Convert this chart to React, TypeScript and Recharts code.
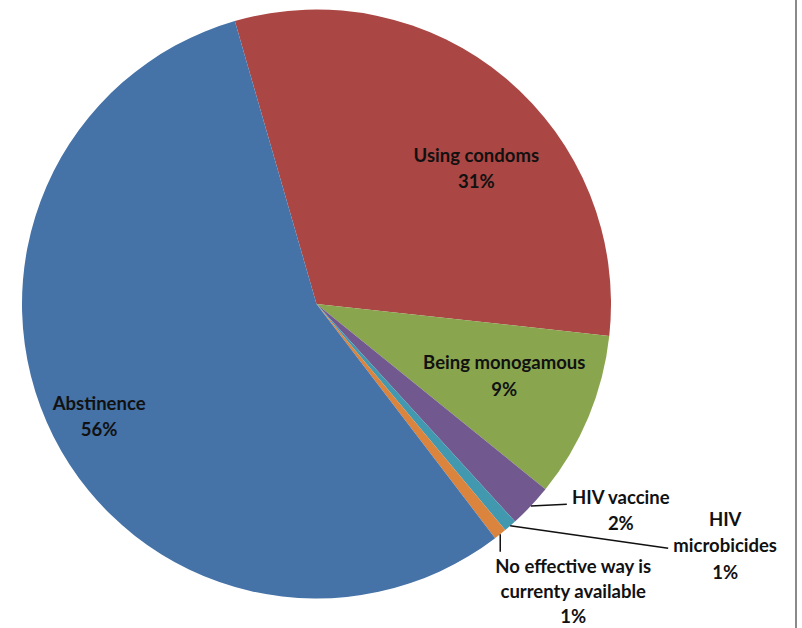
import { PieChart, Pie, Cell } from 'recharts';

// Answers to "most effective way to prevent HIV", share of respondents
const categories = [
  'Using condoms',
  'Being monogamous',
  'HIV vaccine',
  'HIV microbicides',
  'No effective way is currenty available',
  'Abstinence',
];
const shares = [31.2, 9.1, 2.4, 0.7, 0.7, 55.9];
const labelText = [
  ['Using condoms'],
  ['Being monogamous'],
  ['HIV vaccine'],
  ['HIV', 'microbicides'],
  ['No effective way is', 'currenty available'],
  ['Abstinence'],
];
const colors = ['#AA4643', '#89A54E', '#71588F', '#4198AF', '#DB843D', '#4572A7'];

const data = categories.map((name, i) => ({ name, value: shares[i] }));
const total = shares.reduce((a, b) => a + b, 0);

const RADIAN = Math.PI / 180;
const LINE_H = 26.5;
const FONT = 'Lato, "Open Sans", sans-serif';

const polar = (cx: number, cy: number, r: number, angle: number) => ({
  x: cx + r * Math.cos(-angle * RADIAN),
  y: cy + r * Math.sin(-angle * RADIAN),
});

// inside labels sit on the slice's mid ray; outside ones hang off the rim with a leader
type Spot =
  | { inside: true; r: number; nx: number; ny: number }
  | { inside: false; lead: [number, number]; dx: number; dy: number; lh?: number };

const labelSpots: Spot[] = [
  { inside: true, r: 0.65, nx: 36.6, ny: 10.7 },
  { inside: true, r: 0.65, nx: 11, ny: -2 },
  { inside: false, lead: [36, -1.6], dx: 90, dy: -9 },
  { inside: false, lead: [158, 22.4], dx: 215, dy: -7 },
  { inside: false, lead: [0, 17.5], dx: 73, dy: 32, lh: 25 },
  { inside: true, r: 0.83, nx: 1, ny: 2 },
];

const renderLabel = (props: any) => {
  const { cx, cy, midAngle, outerRadius, index } = props;
  const spot = labelSpots[index];
  const lines = [...labelText[index], `${Math.round((shares[index] / total) * 100)}%`];
  let x: number;
  let y0: number;
  let lh = LINE_H;
  let leader = null;
  if (spot.inside) {
    const p = polar(cx, cy, outerRadius * spot.r, midAngle);
    x = p.x + spot.nx;
    y0 = p.y + spot.ny - ((lines.length - 1) * LINE_H) / 2;
  } else {
    const edge = polar(cx, cy, outerRadius, midAngle);
    x = edge.x + spot.dx;
    y0 = edge.y + spot.dy;
    lh = spot.lh ?? LINE_H;
    leader = (
      <line
        x1={edge.x}
        y1={edge.y}
        x2={edge.x + spot.lead[0]}
        y2={edge.y + spot.lead[1]}
        stroke="#111"
        strokeWidth={1.5}
      />
    );
  }
  return (
    <g key={`lbl-${index}`}>
      {leader}
      {lines.map((t, i) => (
        <text
          key={i}
          x={x}
          y={y0 + i * lh}
          textAnchor="middle"
          dominantBaseline="central"
          fill="#111"
          fontFamily={FONT}
          fontWeight={700}
          fontSize={18.5}
        >
          {t}
        </text>
      ))}
    </g>
  );
};

export default function App() {
  return (
    <div
      style={{
        width: 797,
        height: 628,
        background: '#fff',
        borderRight: '2px solid #8a8a8a',
        boxSizing: 'border-box',
      }}
    >
      <style>{'body{margin:0}'}</style>
      <PieChart width={795} height={628} margin={{ top: 0, right: 0, bottom: 0, left: 0 }}>
        <Pie
          data={data}
          dataKey="value"
          nameKey="name"
          cx={316.5}
          cy={304}
          outerRadius={294.5}
          startAngle={106.1}
          endAngle={-253.9}
          stroke="none"
          label={renderLabel}
          labelLine={false}
          isAnimationActive={false}
        >
          {data.map((d, i) => (
            <Cell key={d.name} fill={colors[i]} />
          ))}
        </Pie>
      </PieChart>
    </div>
  );
}
